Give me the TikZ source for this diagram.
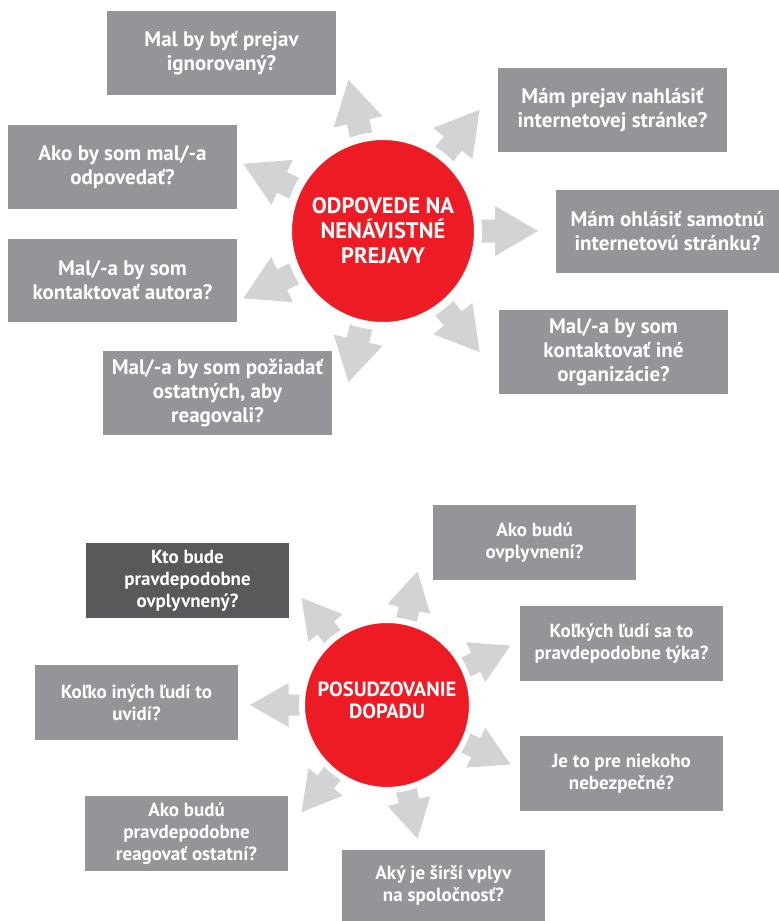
\documentclass[tikz,border=0pt]{standalone}
\usepackage{fontspec}
\setmainfont{PT Sans}
\definecolor{boxgray}{HTML}{939598}
\definecolor{boxdark}{HTML}{58595B}
\definecolor{arrowgray}{HTML}{D1D3D4}
\definecolor{hubred}{HTML}{ED1C24}
\newcommand{\rayarrow}[7]{%
  \fill[arrowgray, shift={(#1)}, rotate=#2]
    (#3,-#6) -- (#4,-#6) -- (#4,-#7) -- (#5,0) -- (#4,#7) -- (#4,#6) -- (#3,#6) -- cycle;}
\tikzset{
  qbox/.style={fill=boxgray, text=white, align=center, inner sep=0pt},
  topq/.style={qbox, minimum width=229pt, minimum height=84pt,
    font=\fontsize{21}{24}\selectfont\bfseries},
  botq/.style={qbox, minimum width=203pt, minimum height=75pt,
    font=\fontsize{19}{22}\selectfont\bfseries},
  hub/.style={circle, fill=hubred, draw=white, text=white, align=center, inner sep=0pt}
}
\begin{document}
\begin{tikzpicture}[x=1pt, y=-1pt]
\useasboundingbox (0,0) rectangle (779,921);
% ---------- top cluster ----------
\coordinate (h1) at (383,231);
\foreach \k in {0,...,6} {\rayarrow{h1}{\k*360/7}{85}{112}{155}{11.5}{25}}
\node[hub, minimum size=190pt, line width=8pt,
  font=\fontsize{22.5}{25}\selectfont\bfseries] (c1) at (h1) {ODPOVEDE NA\\NENÁVISTNÉ\\PREJAVY};

\node[topq] (b1) at (221.5,53) {Mal by byť prejav\\ignorovaný?};
\node[topq] (b2) at (122.5,167) {Ako by som mal/-a\\odpovedať?};
\node[topq] (b3) at (612.5,110) {Mám prejav nahlásiť\\internetovej stránke?};
\node[topq, minimum width=223pt, minimum height=83pt] (b4) at (667.5,231.5) {Mám ohlásiť samotnú\\internetovú stránku?};
\node[topq, minimum height=83pt] (b5) at (122.5,280.5) {Mal/-a by som\\kontaktovať autora?};
\node[topq] (b6) at (217.5,393) {Mal/-a by som požiadať\\ostatných, aby\\reagovali?};
\node[topq] (b7) at (613.5,352) {Mal/-a by som\\kontaktovať iné\\organizácie?};

% ---------- bottom cluster ----------
\coordinate (h2) at (387,705);
\foreach \k in {0,...,6} {\rayarrow{h2}{180+\k*360/7}{78}{98.5}{137}{10.5}{22}}
\node[hub, minimum size=170pt, line width=6pt] (c2) at (h2) {};
\node[text=white, align=center, inner sep=0pt,
  font=\fontsize{20.5}{22}\selectfont\bfseries] (t2) at (387,700) {POSUDZOVANIE\\DOPADU};

\node[botq, fill=boxdark] (b8) at (187.5,580.5) {Kto bude\\pravdepodobne\\ovplyvnený?};
\node[botq] (b9) at (534.5,542.5) {Ako budú\\ovplyvnení?};
\node[botq] (b10) at (621.5,643.5) {Koľkých ľudí sa to\\pravdepodobne týka?};
\node[botq] (b11) at (136.5,702.5) {Koľko iných ľudí to\\uvidí?};
\node[botq] (b12) at (621.5,773.5) {Je to pre niekoho\\nebezpečné?};
\node[botq] (b13) at (186.5,833.5) {Ako budú\\pravdepodobne\\reagovať ostatní?};
\node[botq, minimum height=71pt] (b14) at (443.5,885.5) {Aký je širší vplyv\\na spoločnosť?};
\end{tikzpicture}
\end{document}
